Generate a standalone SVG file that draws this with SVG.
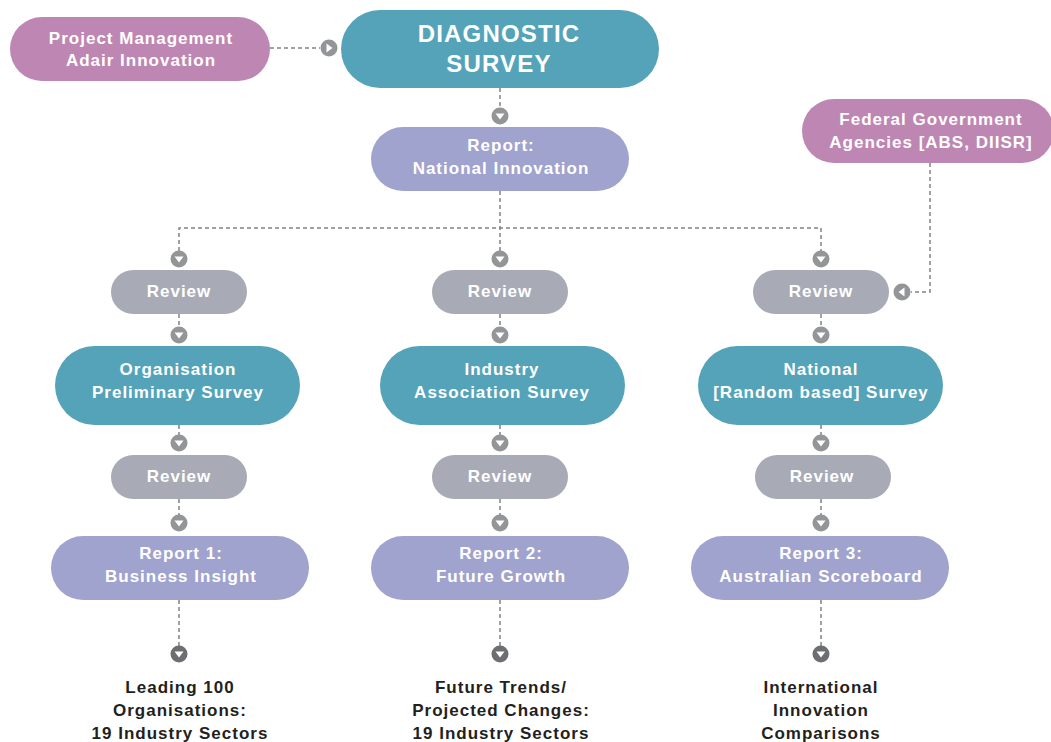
<svg xmlns="http://www.w3.org/2000/svg" xmlns:xlink="http://www.w3.org/1999/xlink" width="1051" height="742" viewBox="0 0 1051 742">
<style>
.t{font-family:"Liberation Sans",Arial,sans-serif;font-weight:bold;font-size:17px;fill:#fff;text-anchor:middle;letter-spacing:1px}
.big{font-size:24px;letter-spacing:1.2px}
.out{fill:#231f20}
.pink{fill:#be86b3}
.teal{fill:#55a3b9}
.lav{fill:#a0a3cd}
.gray{fill:#a8abb6}
.ln{fill:none;stroke:#808285;stroke-width:1.5;stroke-dasharray:4 3}
</style>
<defs>
<g id="dn"><circle r="8.5" fill="#939598"/><polygon points="-4.5,-2.5 4.5,-2.5 0,3.5" fill="#fff"/></g>
<g id="dnd"><circle r="8.5" fill="#6d6e71"/><polygon points="-4.5,-2.5 4.5,-2.5 0,3.5" fill="#fff"/></g>
<g id="rt"><circle r="8.5" fill="#939598"/><polygon points="-2.5,-4.5 -2.5,4.5 3.5,0" fill="#fff"/></g>
<g id="lt"><circle r="8.5" fill="#939598"/><polygon points="2.5,-4.5 2.5,4.5 -3.5,0" fill="#fff"/></g>
</defs>
<rect width="1051" height="742" fill="#fff"/>
<g id="connectors">
<path class="ln" d="M270,48 H320"/>
<path class="ln" d="M500,88 V108"/>
<path class="ln" d="M500,191 V251 M179,251 V228 H821 V251"/>
<path class="ln" d="M930,163 V292 H911"/>
<path class="ln" d="M179,314 V327 M500,314 V327 M821,314 V327"/>
<path class="ln" d="M179,425 V435 M500,425 V435 M821,425 V435"/>
<path class="ln" d="M179,499 V515 M500,499 V515 M821,499 V515"/>
<path class="ln" d="M179,600 V646 M500,600 V646 M821,600 V646"/>
<use href="#rt" x="329" y="48"/>
<use href="#dn" x="500" y="116"/>
<use href="#dn" x="179" y="259"/>
<use href="#dn" x="500" y="259"/>
<use href="#dn" x="821" y="259"/>
<use href="#lt" x="902" y="292"/>
<use href="#dn" x="179" y="335"/>
<use href="#dn" x="500" y="335"/>
<use href="#dn" x="821" y="335"/>
<use href="#dn" x="179" y="443"/>
<use href="#dn" x="500" y="443"/>
<use href="#dn" x="821" y="443"/>
<use href="#dn" x="179" y="523"/>
<use href="#dn" x="500" y="523"/>
<use href="#dn" x="821" y="523"/>
<use href="#dnd" x="179" y="654"/>
<use href="#dnd" x="500" y="654"/>
<use href="#dnd" x="821" y="654"/>
</g>
<g id="pm"><rect class="pink" x="10" y="17" width="260" height="64" rx="32"/><text class="t" x="141" y="44">Project Management</text><text class="t" x="141" y="66">Adair Innovation</text></g>
<g id="diag"><rect class="teal" x="341" y="10" width="318" height="78" rx="39"/><text class="t big" x="499" y="42">DIAGNOSTIC</text><text class="t big" x="499" y="72">SURVEY</text></g>
<g id="natrep"><rect class="lav" x="371" y="127" width="258" height="64" rx="32"/><text class="t" x="501" y="151">Report:</text><text class="t" x="501" y="174">National Innovation</text></g>
<g id="fed"><rect class="pink" x="802" y="99" width="252" height="64" rx="32"/><text class="t" x="931" y="125">Federal Government</text><text class="t" x="931" y="148">Agencies [ABS, DIISR]</text></g>
<g id="rev1a"><rect class="gray" x="111" y="270" width="136" height="44" rx="22"/><text class="t" x="179" y="297">Review</text></g>
<g id="rev2a"><rect class="gray" x="432" y="270" width="136" height="44" rx="22"/><text class="t" x="500" y="297">Review</text></g>
<g id="rev3a"><rect class="gray" x="753" y="270" width="136" height="44" rx="22"/><text class="t" x="821" y="297">Review</text></g>
<g id="org"><rect class="teal" x="55" y="346" width="245" height="79" rx="39.5"/><text class="t" x="178" y="375">Organisation</text><text class="t" x="178" y="398">Preliminary Survey</text></g>
<g id="ind"><rect class="teal" x="380" y="346" width="245" height="79" rx="39.5"/><text class="t" x="502" y="375">Industry</text><text class="t" x="502" y="398">Association Survey</text></g>
<g id="nat"><rect class="teal" x="698" y="346" width="245" height="79" rx="39.5"/><text class="t" x="821" y="375">National</text><text class="t" x="821" y="398">[Random based] Survey</text></g>
<g id="rev1b"><rect class="gray" x="111" y="455" width="136" height="44" rx="22"/><text class="t" x="179" y="482">Review</text></g>
<g id="rev2b"><rect class="gray" x="432" y="455" width="136" height="44" rx="22"/><text class="t" x="500" y="482">Review</text></g>
<g id="rev3b"><rect class="gray" x="755" y="455" width="136" height="44" rx="22"/><text class="t" x="822" y="482">Review</text></g>
<g id="rep1"><rect class="lav" x="51" y="536" width="258" height="64" rx="32"/><text class="t" x="181" y="559">Report 1:</text><text class="t" x="181" y="582">Business Insight</text></g>
<g id="rep2"><rect class="lav" x="371" y="536" width="258" height="64" rx="32"/><text class="t" x="501" y="559">Report 2:</text><text class="t" x="501" y="582">Future Growth</text></g>
<g id="rep3"><rect class="lav" x="691" y="536" width="258" height="64" rx="32"/><text class="t" x="821" y="559">Report 3:</text><text class="t" x="821" y="582">Australian Scoreboard</text></g>
<g id="out1"><text class="t out" x="180" y="693">Leading 100</text><text class="t out" x="180" y="716">Organisations:</text><text class="t out" x="180" y="739">19 Industry Sectors</text></g>
<g id="out2"><text class="t out" x="501" y="693">Future Trends/</text><text class="t out" x="501" y="716">Projected Changes:</text><text class="t out" x="501" y="739">19 Industry Sectors</text></g>
<g id="out3"><text class="t out" x="821" y="693">International</text><text class="t out" x="821" y="716">Innovation</text><text class="t out" x="821" y="739">Comparisons</text></g>
</svg>
